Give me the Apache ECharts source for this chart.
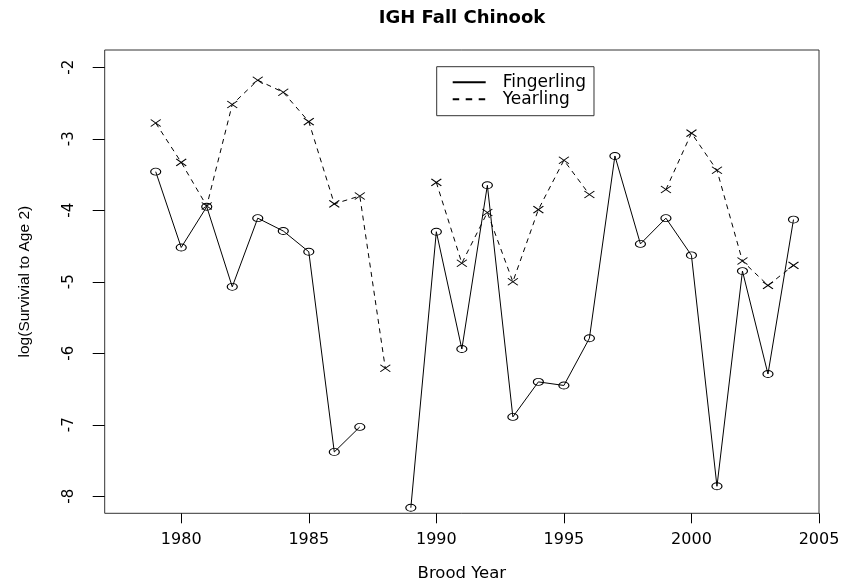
<!DOCTYPE html>
<html>
<head>
<meta charset="utf-8">
<script src="https://cdn.jsdelivr.net/npm/echarts@6/dist/echarts.min.js"></script>
<style>
  html, body { margin: 0; padding: 0; background: #fff; }
  #chart { width: 843px; height: 586px; }
</style>
</head>
<body>
<div id="chart"></div>
<script>
const years = [1979,1980,1981,1982,1983,1984,1985,1986,1987,1988,1989,1990,1991,1992,1993,1994,1995,1996,1997,1998,1999,2000,2001,2002,2003,2004];
const fingerling = [-3.46,-4.52,-3.95,-5.07,-4.11,-4.29,-4.58,-7.38,-7.03,null,-8.16,-4.30,-5.94,-3.65,-6.89,-6.40,-6.45,-5.79,-3.24,-4.47,-4.11,-4.63,-7.86,-4.85,-6.29,-4.13];
const yearling = [-2.78,-3.33,-3.94,-2.52,-2.18,-2.35,-2.76,-3.91,-3.80,-6.21,null,-3.61,-4.74,-4.03,-5.00,-3.99,-3.30,-3.78,null,null,-3.71,-2.92,-3.44,-4.71,-5.05,-4.77];
const xTicks = [1980,1985,1990,1995,2000,2005];
const yTicks = [-8,-7,-6,-5,-4,-3,-2];
const seriesNames = ['Fingerling','Yearling'];
const titleText = 'IGH Fall Chinook';
const xName = 'Brood Year';
const yName = 'log(Survivial to Age 2)';

function pairs(vals) {
  return years.map((y, i) => [y, vals[i]]);
}

const chart = echarts.init(document.getElementById('chart'), null, { renderer: 'canvas' });
const option = {
  animation: false,
  backgroundColor: '#fff',
  title: {
    text: titleText,
    left: 462,
    top: 9,
    padding: 0,
    textAlign: 'center',
    textStyle: { fontFamily: 'DejaVu Sans', fontWeight: 'bold', fontSize: 18, color: '#000' }
  },
  legend: {
    orient: 'vertical',
    left: 436.7,
    top: 66.7,
    padding: [7, 8, 8, 15],
    itemGap: 0,
    itemWidth: 33,
    itemHeight: 10,
    borderColor: '#333',
    borderWidth: 1,
    data: [
      { name: seriesNames[0] },
      { name: seriesNames[1], lineStyle: { type: [6.5, 6.5] } }
    ],
    itemStyle: { color: 'rgba(0,0,0,0)', borderColor: 'rgba(0,0,0,0)', borderWidth: 0 },
    textStyle: { fontFamily: 'DejaVu Sans', fontSize: 17, color: '#000', lineHeight: 15.6, padding: [0, 0, 0, 12] }
  },
  grid: {
    left: 104.7, right: 24, top: 50, bottom: 72.7,
    show: true, borderColor: '#333', borderWidth: 1,
    containLabel: false, outerBoundsMode: 'none'
  },
  xAxis: {
    type: 'value',
    min: 1977, max: 2005,
    name: xName,
    nameLocation: 'middle',
    nameGap: 52,
    nameTextStyle: { fontFamily: 'DejaVu Sans', fontSize: 16.5, color: '#000' },
    axisLine: { show: false },
    splitLine: { show: false },
    axisTick: { show: true, inside: false, length: 10, customValues: xTicks, lineStyle: { color: '#000' } },
    axisLabel: { customValues: xTicks, margin: 19, fontFamily: 'DejaVu Sans', fontSize: 16, color: '#000',
      formatter: v => String(v) }
  },
  yAxis: {
    type: 'value',
    min: -8.238, max: -1.758,
    name: yName,
    nameLocation: 'middle',
    nameGap: 72,
    nameTextStyle: { fontFamily: 'Liberation Sans', fontSize: 15.5, color: '#000' },
    axisLine: { show: false },
    splitLine: { show: false },
    axisTick: { show: true, inside: false, length: 12, customValues: yTicks, lineStyle: { color: '#000' } },
    axisLabel: { customValues: yTicks, rotate: 90, margin: 28, fontFamily: 'DejaVu Sans', fontSize: 15, color: '#000',
      formatter: v => String(v) }
  },
  series: [
    {
      name: seriesNames[0],
      type: 'line',
      data: pairs(fingerling),
      connectNulls: false,
      symbol: 'circle',
      symbolSize: [10, 7],
      showAllSymbol: true,
      lineStyle: { color: '#000', width: 1, type: 'solid' },
      itemStyle: { color: 'rgba(0,0,0,0)', borderColor: '#000', borderWidth: 1 },
      emphasis: { disabled: true }
    },
    {
      name: seriesNames[1],
      type: 'line',
      data: pairs(yearling),
      connectNulls: false,
      symbol: 'path://M0,0L10,7M10,0L0,7',
      symbolSize: [10, 7],
      showAllSymbol: true,
      lineStyle: { color: '#000', width: 1, type: [5, 4.5] },
      itemStyle: { color: '#000', borderColor: '#000', borderWidth: 1 },
      emphasis: { disabled: true }
    }
  ]
};
chart.setOption(option);
</script>
</body>
</html>
